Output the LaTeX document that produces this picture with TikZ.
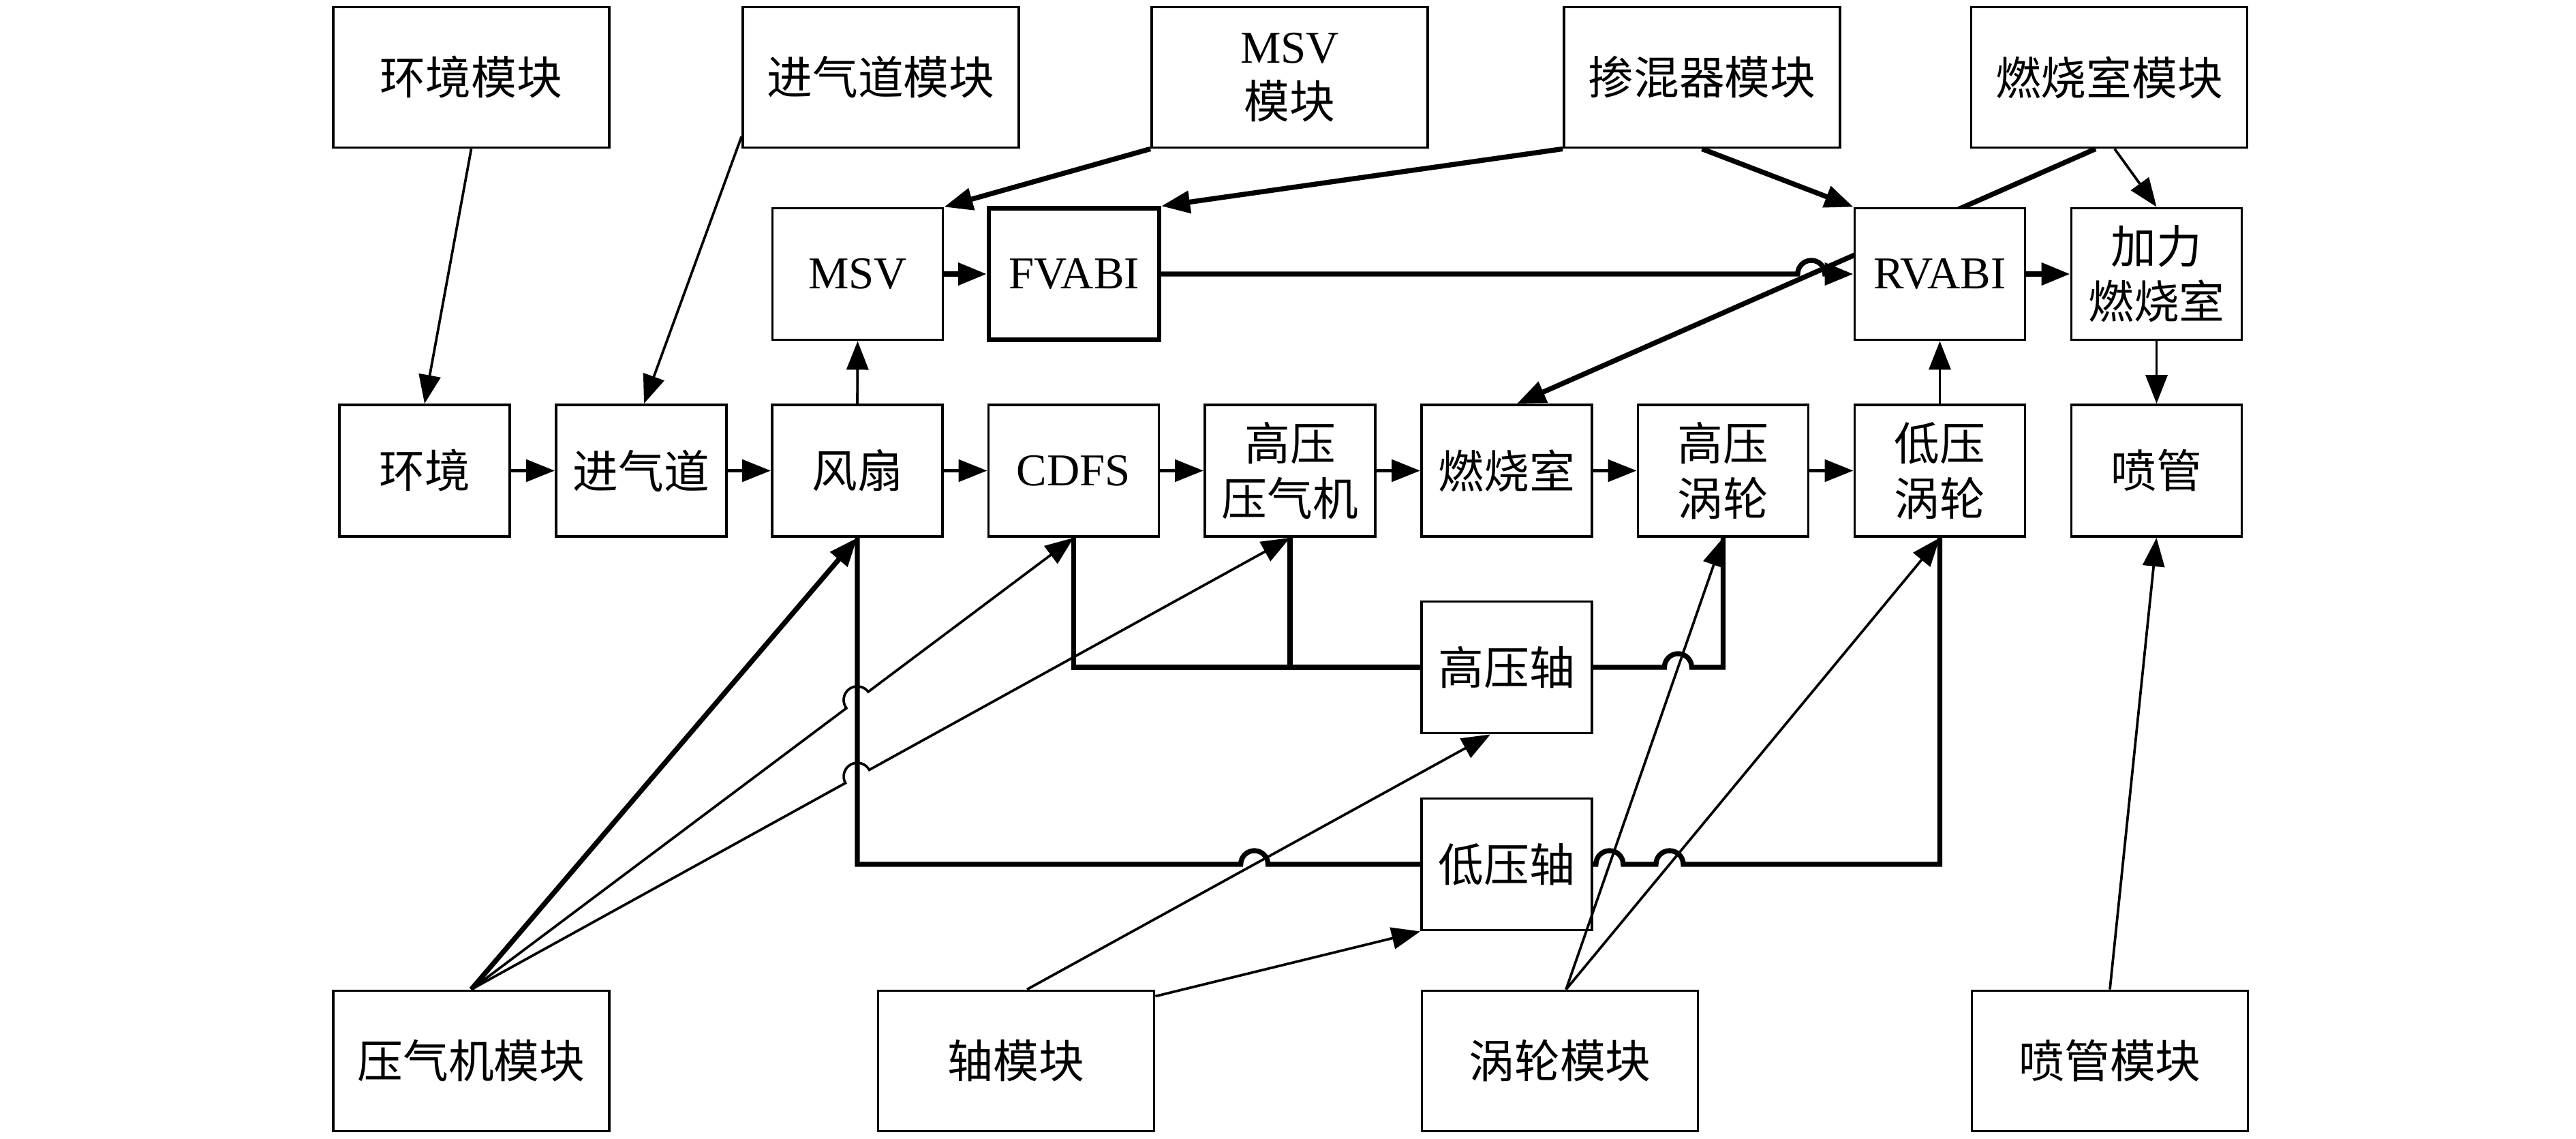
\documentclass[tikz,border=0pt]{standalone}
\usepackage{fontspec}
\setmainfont{Liberation Serif}
\newfontfamily\cjk{Noto Sans CJK SC}
\usetikzlibrary{arrows.meta,calc,intersections}
\pgfdeclarelayer{bg}
\pgfsetlayers{bg,main}
\begin{document}
\begin{tikzpicture}[
  box/.style={draw, line width=1.1pt, fill=white, align=center, inner sep=0pt, font=\fontsize{19}{23}\selectfont},
  modbox/.style={box, minimum width=4.05cm, minimum height=2.06cm},
  blk/.style={box, minimum width=2.5cm, minimum height=1.93cm},
  thinln/.style={line width=1.05pt},
  midln/.style={line width=1.5pt},
  thickln/.style={line width=2.1pt},
  arr/.style={-{Triangle[length=0.42cm,width=0.32cm]}}
]
\useasboundingbox (0,0) rectangle (37.8,-16.71);

% top modules
\node[modbox] (envM)   at (6.915,-1.135)  {\cjk 环境模块};
\node[modbox] (inletM) at (12.925,-1.135) {\cjk 进气道模块};
\node[modbox] (msvM)   at (18.925,-1.135) {MSV\\\cjk 模块};
\node[modbox] (mixM)   at (24.975,-1.135) {\cjk 掺混器模块};
\node[modbox] (combM)  at (30.95,-1.135)  {\cjk 燃烧室模块};

% second row
\node[blk] (msv)   at (12.585,-4.02) {MSV};
\node[blk, line width=1.8pt] (fvabi) at (15.76,-4.02) {FVABI};
\node[blk] (rvabi) at (28.465,-4.02) {RVABI};
\node[blk] (ab)    at (31.645,-4.02) {\cjk 加力\\\cjk 燃烧室};

% main row
\node[blk] (env)   at (6.23,-6.905)   {\cjk 环境};
\node[blk] (inlet) at (9.41,-6.905)   {\cjk 进气道};
\node[blk] (fan)   at (12.58,-6.905)  {\cjk 风扇};
\node[blk] (cdfs)  at (15.755,-6.905) {CDFS};
\node[blk] (hpc)   at (18.93,-6.905)  {\cjk 高压\\\cjk 压气机};
\node[blk] (comb)  at (22.11,-6.905)  {\cjk 燃烧室};
\node[blk] (hpt)   at (25.285,-6.905) {\cjk 高压\\\cjk 涡轮};
\node[blk] (lpt)   at (28.465,-6.905) {\cjk 低压\\\cjk 涡轮};
\node[blk] (noz)   at (31.645,-6.905) {\cjk 喷管};

% shafts
\node[blk] (hps) at (22.11,-9.79)  {\cjk 高压轴};
\node[blk] (lps) at (22.11,-12.68) {\cjk 低压轴};

% bottom modules
\node[modbox] (compM)  at (6.915,-15.565) {\cjk 压气机模块};
\node[modbox] (shaftM) at (14.91,-15.565) {\cjk 轴模块};
\node[modbox] (turbM)  at (22.89,-15.565) {\cjk 涡轮模块};
\node[modbox] (nozM)   at (30.96,-15.565) {\cjk 喷管模块};

% helper paths for line hops
\path[name path=pd1] ([xshift=-0.2cm]combM.south) -- ([xshift=0.15cm]comb.north);
\path[name path=ph1] (fvabi.east) -- (rvabi.west);
\path[name intersections={of=pd1 and ph1, by=X1}];
\path[name path=ph2] (hps.east) -- (hps.east -| hpt.south);
\path[name path=pt1] ([xshift=0.09cm]turbM.north) -- (hpt.south);
\path[name path=pt2] ([xshift=0.09cm]turbM.north) -- (lpt.south);
\path[name intersections={of=pt1 and ph2, by=X2}];
\path[name path=ph3] (lps.east) -- (lps.east -| lpt.south);
\path[name intersections={of=pt1 and ph3, by=X3}];
\path[name intersections={of=pt2 and ph3, by=X4}];
\path[name path=ph4] (fan.south |- lps.west) -- (lps.west);
\path[name path=ps1] ([xshift=0.16cm]shaftM.north) -- ([xshift=-0.24cm]hps.south);
\path[name intersections={of=ps1 and ph4, by=X5}];
\path[name path=pv1] (fan.south) -- (fan.south |- lps.west);
\path[name path=pc2] (compM.north) -- (cdfs.south);
\path[name path=pc3] (compM.north) -- (hpc.south);
\path[name intersections={of=pc2 and pv1, by=X6}];
\path[name intersections={of=pc3 and pv1, by=X7}];

% line passing behind RVABI
\begin{pgfonlayer}{bg}
\draw[thickln,arr] ([xshift=-0.2cm]combM.south) -- ([xshift=0.15cm]comb.north);
\end{pgfonlayer}

% main flow
\draw[midln,arr] (env) -- (inlet);
\draw[midln,arr] (inlet) -- (fan);
\draw[midln,arr] (fan) -- (cdfs);
\draw[midln,arr] (cdfs) -- (hpc);
\draw[midln,arr] (hpc) -- (comb);
\draw[midln,arr] (comb) -- (hpt);
\draw[midln,arr] (hpt) -- (lpt);

% bypass / afterburner
\draw[thickln,arr] (msv) -- (fvabi);
\draw[thickln,arr] (fvabi.east) -- ([xshift=-0.2cm]X1) arc[start angle=180,end angle=0,radius=0.2cm] -- (rvabi.west);
\draw[thickln,arr] (rvabi) -- (ab);
\draw[thinln,arr] (fan.north) -- (msv.south);
\draw[thinln,arr] (lpt.north) -- (rvabi.south);
\draw[thinln,arr] (ab.south) -- (noz.north);

% top module links
\draw[thinln,arr] (envM.south) -- (env.north);
\draw[thinln,arr] ([yshift=0.18cm]inletM.south west) -- ([xshift=0.04cm]inlet.north);
\draw[thickln,arr] (msvM.south west) -- (msv.north east);
\draw[thickln,arr] (mixM.south west) -- (fvabi.north east);
\draw[thickln,arr] (mixM.south) -- (rvabi.north west);
\draw[thinln,arr] ([xshift=0.08cm]combM.south) -- (ab.north);

% shafts
\draw[thickln] (cdfs.south) |- (hps.west);
\draw[thickln] (hpc.south) -- (hpc.south |- hps.west);
\draw[thickln] (hps.east) -- ([xshift=-0.2cm]X2) arc[start angle=180,end angle=0,radius=0.2cm] -- (hps.east -| hpt.south) -- (hpt.south);
\draw[thickln] (fan.south) -- (fan.south |- lps.west) -- ([xshift=-0.2cm]X5) arc[start angle=180,end angle=0,radius=0.2cm] -- (lps.west);
\draw[thickln] (lps.east) -- ([xshift=-0.2cm]X3) arc[start angle=180,end angle=0,radius=0.2cm] -- ([xshift=-0.2cm]X4) arc[start angle=180,end angle=0,radius=0.2cm] -- (lps.east -| lpt.south) -- (lpt.south);

% bottom module links
\draw[thickln,arr] (compM.north) -- (fan.south);
\draw[thinln,arr] let \p1=($(cdfs.south)-(compM.north)$), \n1={atan2(\y1,\x1)} in
  (compM.north) -- ($(X6)!0.2cm!(compM.north)$) arc[start angle=\n1+180,end angle=\n1,radius=0.2cm] -- (cdfs.south);
\draw[thinln,arr] let \p1=($(hpc.south)-(compM.north)$), \n1={atan2(\y1,\x1)} in
  (compM.north) -- ($(X7)!0.2cm!(compM.north)$) arc[start angle=\n1+180,end angle=\n1,radius=0.2cm] -- (hpc.south);
\draw[thinln,arr] ([xshift=0.16cm]shaftM.north) -- ([xshift=-0.24cm]hps.south);
\draw[thinln,arr] ([yshift=-0.1cm]shaftM.north east) -- (lps.south west);
\draw[thinln,arr] ([xshift=0.09cm]turbM.north) -- (hpt.south);
\draw[thinln,arr] ([xshift=0.09cm]turbM.north) -- (lpt.south);
\draw[thinln,arr] (nozM.north) -- (noz.south);
\end{tikzpicture}
\end{document}
